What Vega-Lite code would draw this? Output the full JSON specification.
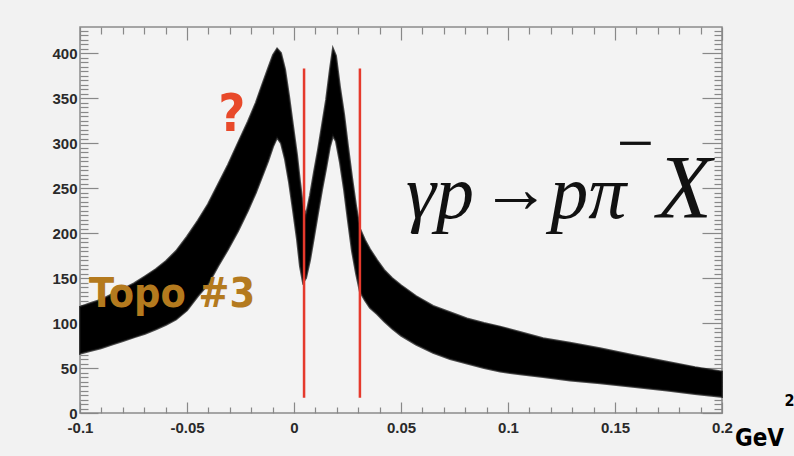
{
  "$schema": "https://vega.github.io/schema/vega-lite/v6.json",
  "width": 642,
  "height": 386,
  "autosize": "none",
  "padding": {"left": 80, "top": 27, "right": 72, "bottom": 43},
  "background": "#f2f2f2",
  "config": {
    "view": {"fill": "#f3f3f3", "stroke": "#8c8c8c", "strokeWidth": 1.5},
    "axis": {"grid": false, "domain": false, "title": null}
  },
  "datasets": {
    "band": [
      {"t": -0.1000, "hi": 118, "lo": 66},
      {"t": -0.0953, "hi": 122, "lo": 69},
      {"t": -0.0902, "hi": 126, "lo": 72},
      {"t": -0.0850, "hi": 132, "lo": 76},
      {"t": -0.0799, "hi": 138, "lo": 80},
      {"t": -0.0748, "hi": 144, "lo": 84},
      {"t": -0.0696, "hi": 152, "lo": 88},
      {"t": -0.0645, "hi": 160, "lo": 93},
      {"t": -0.0598, "hi": 169, "lo": 98},
      {"t": -0.0551, "hi": 180, "lo": 104},
      {"t": -0.0500, "hi": 196, "lo": 114},
      {"t": -0.0449, "hi": 214, "lo": 130},
      {"t": -0.0402, "hi": 232, "lo": 143},
      {"t": -0.0355, "hi": 254, "lo": 163},
      {"t": -0.0308, "hi": 276, "lo": 182},
      {"t": -0.0262, "hi": 300, "lo": 202},
      {"t": -0.0215, "hi": 324, "lo": 225},
      {"t": -0.0178, "hi": 345, "lo": 245},
      {"t": -0.0150, "hi": 364, "lo": 262},
      {"t": -0.0121, "hi": 383, "lo": 280},
      {"t": -0.0098, "hi": 398, "lo": 296},
      {"t": -0.0079, "hi": 405, "lo": 306},
      {"t": -0.0061, "hi": 400, "lo": 300},
      {"t": -0.0042, "hi": 382, "lo": 282},
      {"t": -0.0023, "hi": 352, "lo": 256},
      {"t": -0.0005, "hi": 320, "lo": 226},
      {"t": 0.0014, "hi": 287, "lo": 193},
      {"t": 0.0028, "hi": 257, "lo": 163},
      {"t": 0.0042, "hi": 230, "lo": 145},
      {"t": 0.0056, "hi": 220, "lo": 150},
      {"t": 0.0075, "hi": 242, "lo": 170},
      {"t": 0.0093, "hi": 267, "lo": 195},
      {"t": 0.0112, "hi": 292, "lo": 222},
      {"t": 0.0131, "hi": 320, "lo": 248},
      {"t": 0.0150, "hi": 348, "lo": 272},
      {"t": 0.0168, "hi": 382, "lo": 296},
      {"t": 0.0182, "hi": 405, "lo": 308},
      {"t": 0.0196, "hi": 397, "lo": 302},
      {"t": 0.0215, "hi": 362, "lo": 278},
      {"t": 0.0234, "hi": 332, "lo": 248},
      {"t": 0.0252, "hi": 297, "lo": 214},
      {"t": 0.0271, "hi": 262, "lo": 180},
      {"t": 0.0290, "hi": 230, "lo": 155},
      {"t": 0.0308, "hi": 205, "lo": 135},
      {"t": 0.0332, "hi": 192, "lo": 125},
      {"t": 0.0355, "hi": 182, "lo": 117},
      {"t": 0.0388, "hi": 170, "lo": 110},
      {"t": 0.0421, "hi": 159, "lo": 102},
      {"t": 0.0458, "hi": 150, "lo": 94},
      {"t": 0.0500, "hi": 142, "lo": 86},
      {"t": 0.0570, "hi": 130, "lo": 76},
      {"t": 0.0650, "hi": 119, "lo": 67},
      {"t": 0.0729, "hi": 112, "lo": 60},
      {"t": 0.0808, "hi": 105, "lo": 55},
      {"t": 0.0888, "hi": 100, "lo": 50},
      {"t": 0.0963, "hi": 96, "lo": 46},
      {"t": 0.1056, "hi": 90, "lo": 43},
      {"t": 0.1164, "hi": 83, "lo": 40},
      {"t": 0.1290, "hi": 78, "lo": 36},
      {"t": 0.1430, "hi": 72, "lo": 33},
      {"t": 0.1593, "hi": 64, "lo": 29},
      {"t": 0.1743, "hi": 57, "lo": 25},
      {"t": 0.1874, "hi": 51, "lo": 21},
      {"t": 0.2000, "hi": 46, "lo": 18}
    ],
    "cuts": [
      {"t": 0.0047, "lo": 17, "hi": 383},
      {"t": 0.0308, "lo": 17, "hi": 383}
    ],
    "one": [{}]
  },
  "resolve": {"axis": {"x": "independent", "y": "independent"}},
  "layer": [
    {
      "data": {"name": "band"},
      "mark": {"type": "area", "color": "#000000", "interpolate": "linear", "stroke": "#111111", "strokeWidth": 2, "strokeOpacity": 0.75},
      "encoding": {
        "x": {"field": "t", "type": "quantitative",
          "scale": {"domain": [-0.1, 0.2], "nice": false, "zero": false},
          "axis": {"orient": "bottom", "values": [-0.1, -0.05, 0, 0.05, 0.1, 0.15, 0.2], "ticks": false,
            "labelExpr": "replace(format(datum.value, '.2~f'), '−', '-')",
            "labelFont": "Liberation Sans", "labelFontWeight": "bold", "labelFontSize": 15, "labelColor": "#2a2a2a",
            "labelPadding": 7, "labelFlush": false, "labelOverlap": false}},
        "y": {"field": "hi", "type": "quantitative",
          "scale": {"domain": [0, 429], "nice": false, "zero": false},
          "axis": {"orient": "left", "values": [0, 50, 100, 150, 200, 250, 300, 350, 400], "ticks": false,
            "labelFont": "Liberation Sans", "labelFontWeight": "bold", "labelFontSize": 15, "labelColor": "#2a2a2a",
            "labelPadding": 3, "labelFlush": false, "labelOverlap": false}},
        "y2": {"field": "lo"}
      }
    },
    {
      "data": {"name": "cuts"},
      "mark": {"type": "rule", "color": "#e5392c", "strokeWidth": 2.5},
      "encoding": {
        "x": {"field": "t", "type": "quantitative",
          "scale": {"domain": [-0.1, 0.2], "nice": false, "zero": false},
          "axis": {"orient": "bottom", "labels": false, "tickColor": "#888888", "tickWidth": 1.2,
            "values": [-0.1,-0.09,-0.08,-0.07,-0.06,-0.05,-0.04,-0.03,-0.02,-0.01,0,0.01,0.02,0.03,0.04,0.05,0.06,0.07,0.08,0.09,0.1,0.11,0.12,0.13,0.14,0.15,0.16,0.17,0.18,0.19,0.2],
            "tickSize": {"condition": {"test": "abs(datum.value*20 - round(datum.value*20)) < 0.001", "value": -11}, "value": -6}}},
        "y": {"field": "lo", "type": "quantitative",
          "scale": {"domain": [0, 429], "nice": false, "zero": false},
          "axis": {"orient": "left", "labels": false, "tickColor": "#888888", "tickWidth": 1.2,
            "values": [0,5,10,15,20,25,30,35,40,45,50,55,60,65,70,75,80,85,90,95,100,105,110,115,120,125,130,135,140,145,150,155,160,165,170,175,180,185,190,195,200,205,210,215,220,225,230,235,240,245,250,255,260,265,270,275,280,285,290,295,300,305,310,315,320,325,330,335,340,345,350,355,360,365,370,375,380,385,390,395,400,405,410,415,420,425],
            "tickSize": {"condition": {"test": "datum.value % 50 === 0", "value": -18}, "value": -8}}},
        "y2": {"field": "hi"}
      }
    },
    {
      "data": {"name": "one"},
      "mark": {"type": "text", "text": "Topo  #3", "font": "DejaVu Sans Condensed, DejaVu Sans, sans-serif", "fontWeight": "bold", "fontSize": 41, "color": "#b47a1e", "align": "center", "baseline": "middle"},
      "encoding": {
        "x": {"datum": -0.057, "type": "quantitative",
          "scale": {"domain": [-0.1, 0.2], "nice": false, "zero": false},
          "axis": {"orient": "top", "labels": false, "tickColor": "#888888", "tickWidth": 1.2,
            "values": [-0.1,-0.09,-0.08,-0.07,-0.06,-0.05,-0.04,-0.03,-0.02,-0.01,0,0.01,0.02,0.03,0.04,0.05,0.06,0.07,0.08,0.09,0.1,0.11,0.12,0.13,0.14,0.15,0.16,0.17,0.18,0.19,0.2],
            "tickSize": {"condition": {"test": "abs(datum.value*20 - round(datum.value*20)) < 0.001", "value": -13}, "value": -7}}},
        "y": {"datum": 131, "type": "quantitative",
          "scale": {"domain": [0, 429], "nice": false, "zero": false},
          "axis": {"orient": "right", "labels": false, "tickColor": "#888888", "tickWidth": 1.2,
            "values": [0,5,10,15,20,25,30,35,40,45,50,55,60,65,70,75,80,85,90,95,100,105,110,115,120,125,130,135,140,145,150,155,160,165,170,175,180,185,190,195,200,205,210,215,220,225,230,235,240,245,250,255,260,265,270,275,280,285,290,295,300,305,310,315,320,325,330,335,340,345,350,355,360,365,370,375,380,385,390,395,400,405,410,415,420,425],
            "tickSize": {"condition": {"test": "datum.value % 50 === 0", "value": -20}, "value": -8}}}
      }
    },
    {
      "data": {"name": "one"},
      "mark": {"type": "text", "text": "?", "font": "DejaVu Sans Condensed, DejaVu Sans, sans-serif", "fontWeight": "bold", "fontSize": 52, "color": "#e8492a", "align": "center", "baseline": "middle"},
      "encoding": {
        "x": {"datum": -0.029, "type": "quantitative", "scale": {"domain": [-0.1, 0.2], "nice": false, "zero": false}, "axis": null},
        "y": {"datum": 331, "type": "quantitative", "scale": {"domain": [0, 429], "nice": false, "zero": false}, "axis": null}
      }
    },
    {
      "data": {"name": "one"},
      "mark": {"type": "text", "text": "γp", "font": "Liberation Serif, DejaVu Serif, serif", "fontStyle": "italic", "fontSize": 76, "color": "#111111", "align": "center", "baseline": "alphabetic"},
      "encoding": {
        "x": {"datum": 0.0682, "type": "quantitative", "scale": {"domain": [-0.1, 0.2], "nice": false, "zero": false}, "axis": null},
        "y": {"datum": 217, "type": "quantitative", "scale": {"domain": [0, 429], "nice": false, "zero": false}, "axis": null}
      }
    },
    {
      "data": {"name": "one"},
      "mark": {"type": "text", "text": "→", "font": "Liberation Serif, DejaVu Serif, serif", "fontSize": 70, "color": "#111111", "align": "center", "baseline": "middle"},
      "encoding": {
        "x": {"datum": 0.1037, "type": "quantitative", "scale": {"domain": [-0.1, 0.2], "nice": false, "zero": false}, "axis": null},
        "y": {"datum": 247, "type": "quantitative", "scale": {"domain": [0, 429], "nice": false, "zero": false}, "axis": null}
      }
    },
    {
      "data": {"name": "one"},
      "mark": {"type": "text", "text": "pπ", "font": "Liberation Serif, DejaVu Serif, serif", "fontStyle": "italic", "fontSize": 76, "color": "#111111", "align": "center", "baseline": "alphabetic"},
      "encoding": {
        "x": {"datum": 0.1375, "type": "quantitative", "scale": {"domain": [-0.1, 0.2], "nice": false, "zero": false}, "axis": null},
        "y": {"datum": 217, "type": "quantitative", "scale": {"domain": [0, 429], "nice": false, "zero": false}, "axis": null}
      }
    },
    {
      "data": {"name": "one"},
      "mark": {"type": "text", "text": "−", "font": "Liberation Serif, DejaVu Serif, serif", "fontSize": 66, "color": "#111111", "align": "center", "baseline": "middle"},
      "encoding": {
        "x": {"datum": 0.1595, "type": "quantitative", "scale": {"domain": [-0.1, 0.2], "nice": false, "zero": false}, "axis": null},
        "y": {"datum": 298, "type": "quantitative", "scale": {"domain": [0, 429], "nice": false, "zero": false}, "axis": null}
      }
    },
    {
      "data": {"name": "one"},
      "mark": {"type": "text", "text": "X", "font": "Liberation Serif, DejaVu Serif, serif", "fontStyle": "italic", "fontSize": 90, "color": "#111111", "align": "center", "baseline": "alphabetic"},
      "encoding": {
        "x": {"datum": 0.1825, "type": "quantitative", "scale": {"domain": [-0.1, 0.2], "nice": false, "zero": false}, "axis": null},
        "y": {"datum": 217, "type": "quantitative", "scale": {"domain": [0, 429], "nice": false, "zero": false}, "axis": null}
      }
    },
    {
      "data": {"name": "one"},
      "mark": {"type": "text", "text": "GeV", "font": "DejaVu Sans Condensed, DejaVu Sans, sans-serif", "fontWeight": "bold", "fontSize": 24, "color": "#000000", "align": "right", "baseline": "alphabetic"},
      "encoding": {
        "x": {"datum": 0.2290, "type": "quantitative", "scale": {"domain": [-0.1, 0.2], "nice": false, "zero": false}, "axis": null},
        "y": {"datum": -37, "type": "quantitative", "scale": {"domain": [0, 429], "nice": false, "zero": false}, "axis": null}
      }
    },
    {
      "data": {"name": "one"},
      "mark": {"type": "text", "text": "2", "font": "DejaVu Sans Condensed, DejaVu Sans, sans-serif", "fontWeight": "bold", "fontSize": 16, "color": "#000000", "align": "left", "baseline": "alphabetic"},
      "encoding": {
        "x": {"datum": 0.2292, "type": "quantitative", "scale": {"domain": [-0.1, 0.2], "nice": false, "zero": false}, "axis": null},
        "y": {"datum": 8, "type": "quantitative", "scale": {"domain": [0, 429], "nice": false, "zero": false}, "axis": null}
      }
    }
  ]
}
